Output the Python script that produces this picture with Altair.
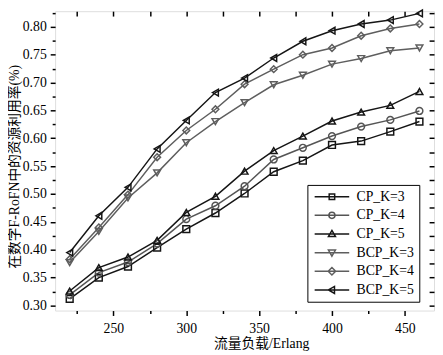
import altair as alt
import pandas as pd

# ---- data ----
load = [220, 240, 260, 280, 300, 320, 340, 360, 380, 400, 420, 440, 460]
series_names = ["CP_K=3", "CP_K=4", "CP_K=5", "BCP_K=3", "BCP_K=4", "BCP_K=5"]
cp_k3 = [0.312, 0.350, 0.370, 0.404, 0.437, 0.466, 0.501, 0.540, 0.560, 0.588, 0.595, 0.612, 0.630]
cp_k4 = [0.319, 0.359, 0.378, 0.411, 0.455, 0.479, 0.514, 0.562, 0.583, 0.604, 0.621, 0.633, 0.649]
cp_k5 = [0.326, 0.368, 0.387, 0.417, 0.467, 0.496, 0.541, 0.578, 0.604, 0.631, 0.647, 0.659, 0.684]
bcp_k3 = [0.377, 0.433, 0.493, 0.538, 0.592, 0.630, 0.664, 0.696, 0.713, 0.733, 0.743, 0.757, 0.762]
bcp_k4 = [0.383, 0.440, 0.499, 0.566, 0.614, 0.652, 0.697, 0.724, 0.750, 0.762, 0.784, 0.797, 0.805]
bcp_k5 = [0.395, 0.461, 0.512, 0.581, 0.632, 0.682, 0.708, 0.744, 0.774, 0.793, 0.805, 0.812, 0.824]

x_ticks = [225, 250, 275, 300, 325, 350, 375, 400, 425, 450]
y_ticks = [0.300, 0.325, 0.350, 0.375, 0.400, 0.425, 0.450, 0.475, 0.500, 0.525,
           0.550, 0.575, 0.600, 0.625, 0.650, 0.675, 0.700, 0.725, 0.750, 0.775,
           0.800, 0.825]

# ---- styles ----
series_colors = ["#151515", "#555555", "#151515", "#5e5e5e", "#5e5e5e", "#151515"]
point_shapes = ["square", "circle", "triangle-up", "triangle-down", "diamond", "triangle-left"]
ln = "M-4.4,0H4.4"
legend_shapes = [
    ln + "M-0.7,-0.7H0.7V0.7H-0.7Z",
    ln + "M0.78,0A0.78,0.78,0,1,1,-0.78,0A0.78,0.78,0,1,1,0.78,0Z",
    ln + "M0,-0.9L0.9,0.65H-0.9Z",
    ln + "M0,0.9L0.9,-0.65H-0.9Z",
    ln + "M0,-0.95L0.95,0L0,0.95L-0.95,0Z",
    ln + "M-0.9,0L0.65,-0.9V0.9Z",
]

series_values = [cp_k3, cp_k4, cp_k5, bcp_k3, bcp_k4, bcp_k5]
rows = []
for name, vals in zip(series_names, series_values):
    for xv, yv in zip(load, vals):
        rows.append({"load": xv, "util": yv, "series": name})
df = pd.DataFrame(rows)
legend_df = pd.DataFrame({"series": series_names})

serif = "Liberation Serif"
cjk = "Liberation Serif, Noto Sans CJK SC"

x_scale = alt.Scale(domain=[210, 470], nice=False, zero=False)
y_scale = alt.Scale(domain=[0.291, 0.828], nice=False, zero=False)
color_scale = alt.Scale(domain=series_names, range=series_colors)

x_major = {"condition": {"test": "datum.value % 50 === 0", "value": 5}, "value": 3}
y_major = {"condition": {"test": "round(datum.value*1000) % 50 === 0", "value": 5}, "value": 3}

x_bottom = alt.Axis(
    orient="bottom", values=x_ticks, grid=False, domain=False,
    labelExpr="datum.value % 50 === 0 ? datum.label : ''",
    tickSize=x_major, tickColor="black", tickWidth=1.5,
    labelFont=serif, labelFontSize=14, labelColor="black", labelPadding=6,
    labelFlush=False, labelOverlap=False,
    title="流量负载/Erlang", titleFont=cjk, titleFontSize=14, titleFontWeight="normal",
    titleColor="black", titleX=210, titleY=27,
)
y_left = alt.Axis(
    orient="left", values=y_ticks, grid=False, domain=False,
    labelExpr="round(datum.value*1000) % 50 === 0 ? format(datum.value, '.2f') : ''",
    tickSize=y_major, tickColor="black", tickWidth=1.5,
    labelFont=serif, labelFontSize=14, labelColor="black", labelPadding=4,
    labelFlush=False, labelOverlap=False,
    title="在数字F-RoFN中的资源利用率(%)", titleFont=cjk, titleFontSize=14,
    titleFontWeight="normal", titleColor="black", titleX=-34, titleY=158,
)
x_top = alt.Axis(
    orient="top", values=x_ticks, grid=False, domain=False, labels=False,
    tickSize=5, offset=-5, tickColor="black", tickWidth=1.5, title="",
)
y_right = alt.Axis(
    orient="right", values=y_ticks, grid=False, domain=False, labels=False,
    tickSize=5, offset=-5, tickColor="black", tickWidth=1.5, title="",
)

lines = alt.Chart(df).mark_line(strokeWidth=1.5).encode(
    x=alt.X("load:Q", scale=x_scale, axis=x_bottom),
    y=alt.Y("util:Q", scale=y_scale, axis=y_left),
    color=alt.Color("series:N", scale=color_scale, legend=None),
    detail="series:N",
)

points = alt.Chart(df).mark_point(filled=False, size=48, strokeWidth=1.5, opacity=1).encode(
    x=alt.X("load:Q", scale=x_scale, axis=x_top),
    y=alt.Y("util:Q", scale=y_scale, axis=y_right),
    color=alt.Color("series:N", scale=color_scale, legend=None),
    shape=alt.Shape("series:N", scale=alt.Scale(domain=series_names, range=point_shapes), legend=None),
)

legend_opts = dict(
    title="", titlePadding=2, orient="none", legendX=257, legendY=177,
    strokeColor="black", fillColor="white", padding=5,
    labelFont=serif, labelFontSize=14, labelColor="black",
    symbolSize=64, symbolStrokeWidth=1.5, symbolOffset=13, labelOffset=18,
    rowPadding=5,
)

legend_layer = alt.Chart(legend_df).mark_point(filled=False, strokeWidth=1.5, opacity=1).encode(
    color=alt.Color("series:N", scale=color_scale, legend=alt.Legend(**legend_opts)),
    shape=alt.Shape(
        "series:N", scale=alt.Scale(domain=series_names, range=legend_shapes),
        legend=alt.Legend(**legend_opts),
    ),
).transform_filter("false")

chart = alt.layer(lines, points, legend_layer).resolve_scale(
    color="independent", shape="independent"
).resolve_axis(
    x="independent", y="independent"
).properties(
    width=386, height=305,
    autosize=alt.AutoSizeParams(type="none"),
    padding={"left": 48, "top": 0, "right": 1, "bottom": 40},
).configure_view(
    stroke="black", strokeWidth=1.5
).configure(background="white")

chart.save("out.html", embed_options={"renderer": "svg", "actions": False})
